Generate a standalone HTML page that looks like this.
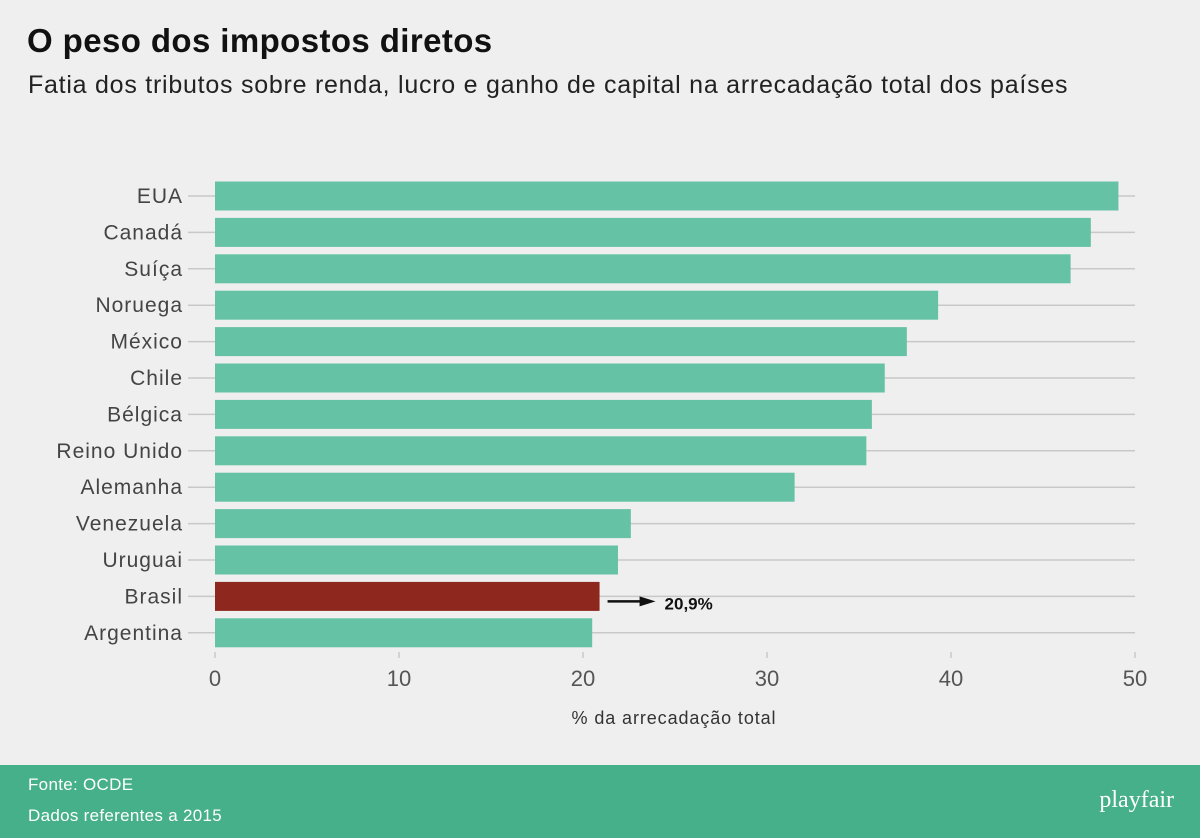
<!DOCTYPE html>
<html><head><meta charset="utf-8"><style>
body{margin:0;background:#efefef;font-family:"Liberation Sans",sans-serif;}
#wrap{position:relative;width:1200px;height:838px;overflow:hidden;background:#efefef}
h1{position:absolute;left:27px;top:22px;margin:0;font-size:33px;font-weight:bold;color:#111;letter-spacing:0.4px}
.sub{position:absolute;left:28px;top:71px;font-size:25px;color:#222;letter-spacing:0.75px}
.footer{position:absolute;left:0;top:765px;width:1200px;height:73px;background:#46b08a;color:#fff}
</style></head><body>
<div id="wrap">
<h1>O peso dos impostos diretos</h1>
<div class="sub">Fatia dos tributos sobre renda, lucro e ganho de capital na arrecadação total dos países</div>
<svg id="chart" width="1200" height="765" style="position:absolute;left:0;top:0"></svg>
<div class="footer">
<div style="position:absolute;left:28px;top:10px;font-size:17px;letter-spacing:0.3px">Fonte: OCDE</div>
<div style="position:absolute;left:28px;top:41px;font-size:17px;letter-spacing:0.3px">Dados referentes a 2015</div>
<div style="position:absolute;right:26px;top:22px;font-size:24px;font-family:'Liberation Serif',serif">playfair</div>
</div>
</div>
<script>
const categories=["EUA","Canadá","Suíça","Noruega","México","Chile","Bélgica","Reino Unido","Alemanha","Venezuela","Uruguai","Brasil","Argentina"];
const values=[49.1,47.6,46.5,39.3,37.6,36.4,35.7,35.4,31.5,22.6,21.9,20.9,20.5];
const ticks=[0,10,20,30,40,50];
const highlight="Brasil";
const highlightLabel="20,9%";
const NS="http://www.w3.org/2000/svg";
const svg=document.getElementById('chart');
const x=v=>215+v*18.4;
const y=i=>196+i*36.4;
function mk(t,a){const e=document.createElementNS(NS,t);for(const k in a)e.setAttribute(k,a[k]);svg.appendChild(e);return e;}
categories.forEach((c,i)=>{
 const g=mk('line',{x1:188,x2:1135,y1:y(i),y2:y(i),stroke:'#c8c8c8','stroke-width':1.5});
 
 
 const t=mk('text',{x:183,y:y(i)+7,'text-anchor':'end','font-size':21,'letter-spacing':1,fill:'#444','font-family':'Liberation Sans, sans-serif'});
 t.textContent=c;
 
 
});
categories.forEach((c,i)=>{
 const hi=c===highlight;
 const r=mk('rect',{x:x(0),y:y(i)-14.5,width:x(values[i])-x(0),height:29,fill:hi?'#8e271d':'#66c2a5'});
 
 
 if(hi){
  const xe=x(values[i]);
  const l=mk('line',{x1:xe+8,x2:xe+42,y1:y(i)+5,y2:y(i)+5,stroke:'#111','stroke-width':2.5});
  
  
  const p=mk('polygon',{points:`${xe+40},${y(i)} ${xe+56},${y(i)+5} ${xe+40},${y(i)+10}`,fill:'#111'});
  
  
  const t=mk('text',{x:xe+65,y:y(i)+13,'font-size':17,'font-weight':'bold',fill:'#111'});
  t.textContent=highlightLabel;
  
  
 }
});
ticks.forEach(v=>{
 const tk=mk('line',{x1:x(v),x2:x(v),y1:652,y2:658,stroke:'#c8c8c8','stroke-width':1.5});
 
 
 const t=mk('text',{x:x(v),y:686,'text-anchor':'middle','font-size':22,fill:'#555'});
 t.textContent=v;
 
 
});
const at=mk('text',{x:674,y:724,'text-anchor':'middle','font-size':18,'letter-spacing':0.9,fill:'#333'});
at.textContent="% da arrecadação total";


</script>
</body></html>
